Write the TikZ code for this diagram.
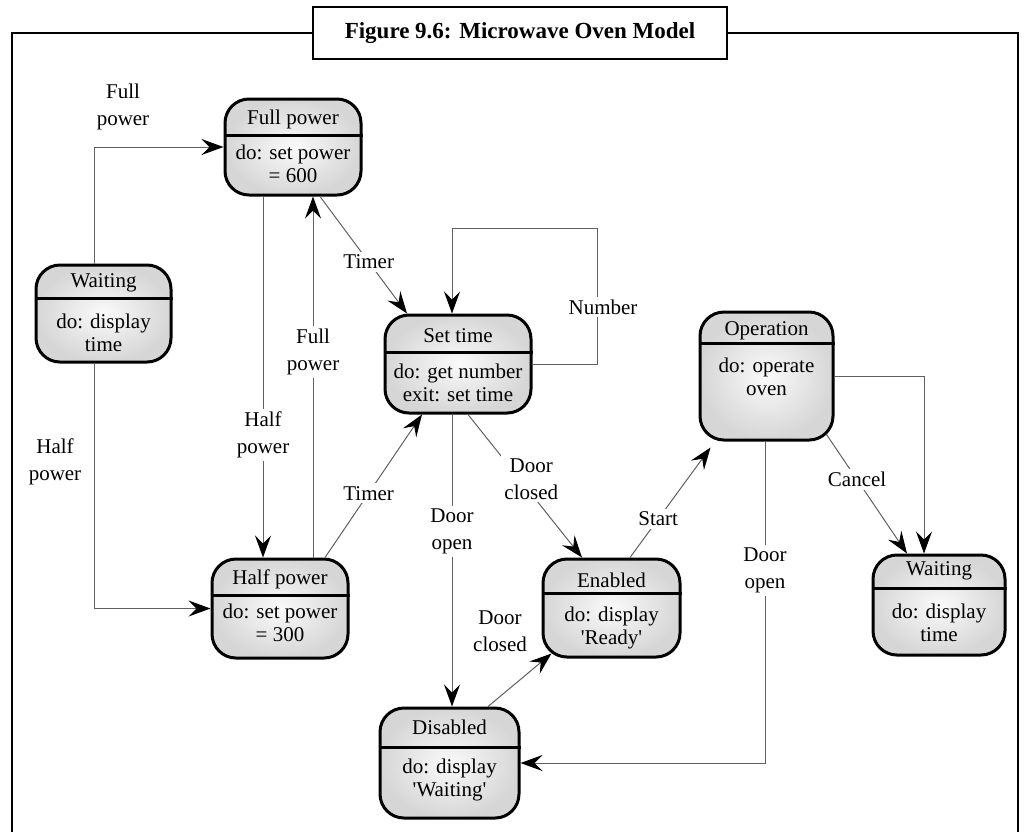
\documentclass[tikz,border=0pt]{standalone}
\usepackage{fontspec}
\setmainfont{Liberation Serif}[Ligatures=TeXOff]
\usetikzlibrary{arrows.meta,fit,calc}

\begin{document}
\begin{tikzpicture}[x=0.5pt, y=-0.5pt, every node/.style={font=\fontsize{10.5}{11.5}\selectfont},
	>={Stealth[length=11pt, width=8pt, inset=4pt, color=black]},
	state/.style={draw, line width=1.5pt, rounded corners=12pt, inner sep=0pt, inner color=gray!4, outer color=gray!32},
	bar/.style={line width=1.5pt},
	tr/.style={->, draw=gray!75!black, line width=0.5pt},
	txt/.style={align=center, inner sep=0pt},
	lbl/.style={fill=white, inner sep=1.5pt, align=center, font=\fontsize{10.5}{13.5}\selectfont}]
	\useasboundingbox (0,0) rectangle (1031,832);
	% frame and caption
	\node[draw, line width=1.2pt, minimum width=207pt, minimum height=26pt, font=\bfseries\fontsize{11.5}{13}\selectfont] (title) at (520,33) {Figure 9.6: Microwave Oven Model};
	\draw[line width=1.2pt] (title.west) -- (12,33) -- (12,832);
	\draw[line width=1.2pt] (title.east) -- (1018,33) -- (1018,832);
	% states
	\node[state, fit={(36,265) (171,362)}] (wait1) {};
	\draw[bar] (wait1.west |- 0,298) -- (wait1.east |- 0,298);
	\node[txt] (wait1-t) at (wait1.north |- 0,283) {Waiting};
	\node[txt] (wait1-b) at (wait1.north |- 0,333) {do: display\\time};
	\node[state, fit={(225,99) (361,195)}] (full) {};
	\draw[bar] (full.west |- 0,135) -- (full.east |- 0,135);
	\node[txt] (full-t) at (full.north |- 0,119) {Full power};
	\node[txt] (full-b) at (full.north |- 0,164) {do: set power\\= 600};
	\node[state, fit={(212,559) (348,658)}] (half) {};
	\draw[bar] (half.west |- 0,595) -- (half.east |- 0,595);
	\node[txt] (half-t) at (half.north |- 0,579) {Half power};
	\node[txt] (half-b) at (half.north |- 0,623) {do: set power\\= 300};
	\node[state, fit={(385,315) (531,413)}] (set) {};
	\draw[bar] (set.west |- 0,352) -- (set.east |- 0,352);
	\node[txt] (set-t) at (set.north |- 0,336) {Set time};
	\node[txt] (set-b) at (set.north |- 0,383) {do: get number\\exit: set time};
	\node[state, fit={(700,312) (833,440)}] (oper) {};
	\draw[bar] (oper.west |- 0,343) -- (oper.east |- 0,343);
	\node[txt] (oper-t) at (oper.north |- 0,331) {Operation};
	\node[txt] (oper-b) at (oper.north |- 0,377) {do: operate\\oven};
	\node[state, fit={(543,559) (680,657)}] (enab) {};
	\draw[bar] (enab.west |- 0,593) -- (enab.east |- 0,593);
	\node[txt] (enab-t) at (enab.north |- 0,580) {Enabled};
	\node[txt] (enab-b) at (enab.north |- 0,628) {do: display\\'Ready'};
	\node[state, fit={(873,555) (1005,655)}] (wait2) {};
	\draw[bar] (wait2.west |- 0,588) -- (wait2.east |- 0,588);
	\node[txt] (wait2-t) at (wait2.north |- 0,571) {Waiting};
	\node[txt] (wait2-b) at (wait2.north |- 0,623) {do: display\\time};
	\node[state, fit={(380,708) (519,818)}] (dis) {};
	\draw[bar] (dis.west |- 0,747) -- (dis.east |- 0,747);
	\node[txt] (dis-t) at (dis.north |- 0,727) {Disabled};
	\node[txt] (dis-b) at (dis.north |- 0,780) {do: display\\'Waiting'};
	% transitions
	\draw[tr] (wait1.north -| 94,0) |- (full.west);
	\node[lbl] (l-fp1) at (123,107) {Full\\power};
	\draw[tr] (wait1.south -| 94,0) |- (half.west);
	\node[lbl] (l-hp1) at (55,462) {Half\\power};
	\draw[tr] (full.south -| 263,0) -- node[lbl, pos=0.66] (l-hp2) {Half\\power} (half.north -| 263,0);
	\draw[tr] (half.north -| 313,0) -- node[lbl, pos=0.57] (l-fp2) {Full\\power} (full.south -| 313,0);
	\draw[tr] (full.south -| 320,0) -- node[lbl, pos=0.56] (l-t1) {Timer} (set.north -| 407,0);
	\draw[tr] (half.north -| 325,0) -- node[lbl, pos=0.45] (l-t2) {Timer} (set.south -| 422,0);
	\draw[tr] (set.east) -| (597,228) -| (set.north -| 452,0);
	\node[lbl] (l-num) at (603,307) {Number};
	\draw[tr] (set.south -| 452,0) -- node[lbl, pos=0.4] (l-do1) {Door\\open} (dis.north -| 452,0);
	\draw[tr] (set.south -| 468,0) -- node[lbl, pos=0.45, xshift=6pt] (l-dc1) {Door\\closed} (enab.north -| 582,0);
	\draw[tr] (dis.north -| 488,0) -- ($(enab.south west)+(10,-5)$);
	\node[lbl] (l-dc2) at (500,631) {Door\\closed};
	\draw[tr] (enab.north -| 630,0) -- node[lbl, pos=0.35] (l-start) {Start} ($(oper.south west)+(12,6)$);
	\draw[tr] ($(oper.south east)+(-8,-7)$) -- node[lbl, pos=0.38] (l-cancel) {Cancel} (wait2.north -| 907,0);
	\draw[tr] (oper.east) -| (wait2.north -| 924,0);
	\draw[tr] (oper.south -| 765,0) |- node[lbl, pos=0.2] (l-do2) {Door\\open} (dis.east);
\end{tikzpicture}
\end{document}
